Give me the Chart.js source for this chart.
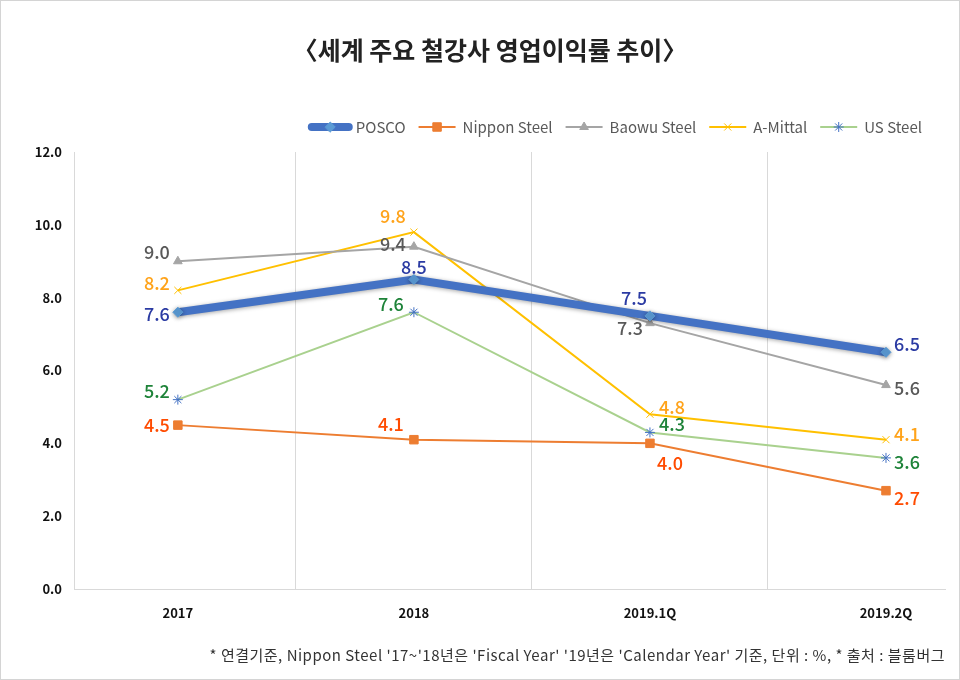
<!DOCTYPE html>
<html>
<head>
<meta charset="utf-8">
<script src="https://cdn.jsdelivr.net/npm/chart.js@4"></script>
<style>
  html, body { margin: 0; padding: 0; background: #fff; }
  #wrap { width: 960px; height: 680px; position: relative; }
</style>
</head>
<body>
<div id="wrap"><canvas id="chart" width="960" height="680"></canvas></div>
<script>
// 데이터
const categories = ['2017', '2018', '2019.1Q', '2019.2Q'];
const posco = [7.6, 8.5, 7.5, 6.5];
const nippon = [4.5, 4.1, 4.0, 2.7];
const baowu = [9.0, 9.4, 7.3, 5.6];
const mittal = [8.2, 9.8, 4.8, 4.1];
const usSteel = [5.2, 7.6, 4.3, 3.6];
const yTicks = [0, 2, 4, 6, 8, 10, 12];

const titleText = '〈세계 주요 철강사 영업이익률 추이〉';
const noteText = "* 연결기준, Nippon Steel '17~'18년은 'Fiscal Year' '19년은 'Calendar Year' 기준, 단위 : %, * 출처 : 블룸버그";

const FONT = "'Noto Sans CJK KR', 'Noto Sans', sans-serif";

// 라벨 위치 (점 기준 dx, dy)
const datasets = [
  {
    label: 'POSCO', data: posco,
    borderColor: '#4472C4', borderWidth: 8,
    pointStyle: 'rectRot', pointRadius: 5, pointBackgroundColor: '#5B9BD5', pointBorderColor: '#5B9BD5', pointBorderWidth: 1,
    labelColor: '#2B3BA3', labelOffsets: [[-21, 2], [0, -12], [-16, -18], [21, -8]]
  },
  {
    label: 'Nippon Steel', data: nippon,
    borderColor: '#ED7D31', borderWidth: 2,
    pointStyle: 'rect', pointRadius: 6, pointBackgroundColor: '#ED7D31', pointBorderColor: '#ED7D31', pointBorderWidth: 1,
    labelColor: '#FF4B00', labelOffsets: [[-21, 0], [-23, -16], [20, 20], [21, 7]]
  },
  {
    label: 'Baowu Steel', data: baowu,
    borderColor: '#A5A5A5', borderWidth: 2,
    pointStyle: 'triangle', pointRadius: 5, pointBackgroundColor: '#A5A5A5', pointBorderColor: '#A5A5A5', pointBorderWidth: 1,
    labelColor: '#595959', labelOffsets: [[-21, -9], [-21, -3], [-20, 5], [21, 3]]
  },
  {
    label: 'A-Mittal', data: mittal,
    borderColor: '#FFC000', borderWidth: 2,
    pointStyle: 'crossRot', pointRadius: 5, pointBackgroundColor: '#FFC000', pointBorderColor: '#FFC000', pointBorderWidth: 1,
    labelColor: '#FFA31A', labelOffsets: [[-21, -7], [-21, -16], [22, -7], [21, -6]]
  },
  {
    label: 'US Steel', data: usSteel,
    borderColor: '#A9D18E', borderWidth: 2,
    pointStyle: 'star', pointRadius: 5, pointBackgroundColor: '#4472C4', pointBorderColor: '#4472C4', pointBorderWidth: 1,
    labelColor: '#1E8339', labelOffsets: [[-21, -8], [-23, -8], [22, -8], [21, 4]]
  }
];
datasets.forEach(d => { d.fill = false; d.tension = 0; d.pointHoverRadius = d.pointRadius; });

// 포스코 선 그림자
const shadowPlugin = {
  id: 'shadow',
  beforeDatasetDraw(chart, args) {
    if (args.index !== 0) return;
    const ctx = chart.ctx;
    ctx.save();
    ctx.shadowColor = 'rgba(0,0,0,0.35)';
    ctx.shadowBlur = 4;
    ctx.shadowOffsetY = 1;
  },
  afterDatasetDraw(chart, args) {
    if (args.index !== 0) return;
    chart.ctx.restore();
  }
};

// 데이터 라벨
const labelPlugin = {
  id: 'valueLabels',
  afterDatasetsDraw(chart) {
    const ctx = chart.ctx;
    ctx.save();
    ctx.font = "500 18px " + FONT;
    ctx.textAlign = 'center';
    ctx.textBaseline = 'middle';
    chart.data.datasets.forEach((ds, di) => {
      const meta = chart.getDatasetMeta(di);
      meta.data.forEach((pt, i) => {
        const off = ds.labelOffsets[i];
        ctx.fillStyle = ds.labelColor;
        ctx.fillText(ds.data[i].toFixed(1), pt.x + off[0], pt.y + off[1]);
      });
    });
    ctx.restore();
  }
};

// 제목, 범례, 주석, 테두리
const decorPlugin = {
  id: 'decor',
  beforeDraw(chart) {
    const ctx = chart.ctx;
    ctx.save();
    ctx.fillStyle = '#fff';
    ctx.fillRect(0, 0, chart.width, chart.height);
    ctx.restore();
  },
  afterDraw(chart) {
    const ctx = chart.ctx;
    ctx.save();
    // 테두리
    ctx.strokeStyle = '#d4d4d4';
    ctx.lineWidth = 1;
    ctx.strokeRect(0.5, 0.5, chart.width - 1, chart.height - 1);

    // 제목
    ctx.fillStyle = '#222';
    ctx.font = "bold 25px " + FONT;
    ctx.textAlign = 'center';
    ctx.textBaseline = 'middle';
    ctx.fillText(titleText, 490, 50);

    // 범례 (오른쪽 끝에서부터)
    ctx.font = "15px " + FONT;
    ctx.textBaseline = 'middle';
    ctx.textAlign = 'left';
    const ly = 127, sampleW = 37, gapText = 7, gapItem = 13;
    let x = 922;
    const items = chart.data.datasets.map(ds => ({ ds, w: ctx.measureText(ds.label).width }));
    for (let i = items.length - 1; i >= 0; i--) {
      const it = items[i], ds = it.ds;
      const tx = x - it.w;
      ctx.fillStyle = '#595959';
      ctx.fillText(ds.label, tx, ly);
      const sx = tx - gapText - sampleW;
      ctx.save();
      ctx.strokeStyle = ds.borderColor;
      ctx.lineWidth = ds.borderWidth;
      ctx.lineCap = ds.borderWidth > 4 ? 'round' : 'butt';
      ctx.beginPath();
      ctx.moveTo(sx, ly);
      ctx.lineTo(sx + sampleW, ly);
      ctx.stroke();
      ctx.fillStyle = ds.pointBackgroundColor;
      ctx.strokeStyle = ds.pointBorderColor;
      ctx.lineWidth = ds.pointBorderWidth;
      Chart.helpers.drawPoint(ctx, { pointStyle: ds.pointStyle, radius: ds.pointRadius, rotation: 0, borderWidth: ds.pointBorderWidth }, sx + sampleW / 2, ly);
      ctx.restore();
      x = sx - gapItem;
    }

    // 주석
    ctx.fillStyle = '#333';
    ctx.font = "15px " + FONT;
    ctx.letterSpacing = '0.5px';
    ctx.textAlign = 'right';
    ctx.fillText(noteText, 945, 655);
    ctx.restore();
  }
};

const ctx = document.getElementById('chart').getContext('2d');
const chart = new Chart(ctx, {
  type: 'line',
  data: {
    labels: categories.map((c, i) => i),
    datasets: datasets
  },
  options: {
    responsive: false,
    animation: false,
    events: [],
    layout: { padding: { left: 0, right: 15, top: 152, bottom: 31 } },
    plugins: {
      legend: { display: false },
      title: { display: false },
      tooltip: { enabled: false }
    },
    scales: {
      x: {
        type: 'linear',
        min: -0.44,
        max: 3.25,
        afterBuildTicks: s => { s.ticks = categories.map((c, i) => ({ value: i })); },
        afterFit: s => { s.height = 60; },
        grid: { display: true, offset: true, color: '#d9d9d9', drawTicks: false, lineWidth: 1 },
        border: { display: true, color: '#d9d9d9', width: 1 },
        ticks: {
          padding: 16,
          color: '#111',
          font: { family: FONT, size: 13, weight: 'bold' },
          callback: v => categories[v]
        }
      },
      y: {
        min: 0,
        max: 12,
        afterBuildTicks: s => { s.ticks = yTicks.map(v => ({ value: v })); },
        afterFit: s => { s.width = 74; },
        grid: { display: false, drawTicks: false },
        border: { display: true, color: '#d9d9d9', width: 1 },
        ticks: {
          padding: 12,
          color: '#111',
          font: { family: FONT, size: 13, weight: 'bold' },
          callback: v => v.toFixed(1)
        }
      }
    }
  },
  plugins: [shadowPlugin, labelPlugin, decorPlugin]
});
</script>
</body>
</html>
